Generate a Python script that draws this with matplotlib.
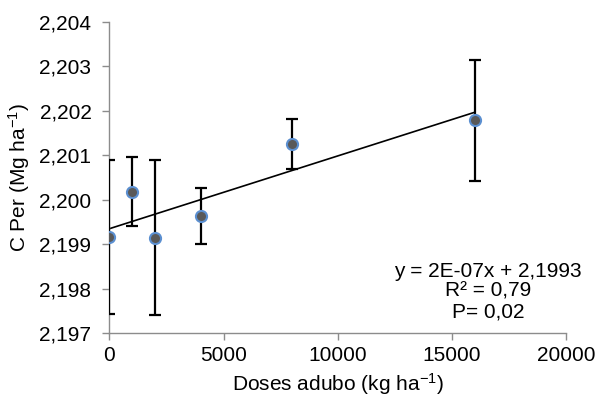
import numpy as np
import matplotlib
matplotlib.use('Agg')
import matplotlib.pyplot as plt
from matplotlib.ticker import FuncFormatter

plt.rcParams['font.family'] = ['Liberation Sans', 'DejaVu Sans']
plt.rcParams['mathtext.fontset'] = 'custom'
plt.rcParams['mathtext.rm'] = 'Liberation Sans'
plt.rcParams['mathtext.default'] = 'regular'

doses = np.array([0, 1000, 2000, 4000, 8000, 16000])
c_per = np.array([2.19916, 2.20018, 2.19914, 2.19963, 2.20125, 2.20178])
err = np.array([0.00173, 0.00078, 0.00174, 0.00062, 0.00056, 0.00136])

eq_text = 'y = 2E-07x + 2,1993'
r2_text = 'R² = 0,79'
p_text = 'P= 0,02'

fig = plt.figure(figsize=(6.09, 3.99), dpi=100)
ax = fig.add_axes([0.1798, 0.1654, 0.7496, 0.7805])

# trend line
coef = np.polyfit(doses, c_per, 1)
xl = np.array([doses.min(), doses.max()])
ax.plot(xl, np.polyval(coef, xl), color='black', lw=1.2, zorder=2)

ax.errorbar(doses, c_per, yerr=err, fmt='none', ecolor='black', elinewidth=1.6,
            capsize=4.5, capthick=1.6, zorder=3)
ax.plot(doses, c_per, 'o', ms=8, mfc='#595959', mec='#5B8FD0', mew=1.5, zorder=4)

ax.set_xlim(0, 20000)
ax.set_ylim(2.197, 2.204)
ax.set_xticks([0, 5000, 10000, 15000, 20000])
ax.set_yticks(np.arange(2.197, 2.20401, 0.001))
ax.yaxis.set_major_formatter(FuncFormatter(lambda v, p: f'{v:.3f}'.replace('.', ',')))

for s in ['top', 'right']:
    ax.spines[s].set_visible(False)
for s in ['left', 'bottom']:
    ax.spines[s].set_color('#8c8c8c')
    ax.spines[s].set_linewidth(1.0)
ax.tick_params(colors='#8c8c8c', labelcolor='black', labelsize=15, length=5, width=1.0)
ax.tick_params(axis='y', pad=8)
ax.tick_params(axis='x', pad=4)

ax.set_xlabel('Doses adubo (kg ha$^{-1}$)', fontsize=15, labelpad=5)
ax.set_ylabel('C Per (Mg ha$^{-1}$)', fontsize=15, labelpad=5)

ax.text(0.829, 0.199, eq_text, transform=ax.transAxes, ha='center', va='center', fontsize=15)
ax.text(0.829, 0.136, r2_text, transform=ax.transAxes, ha='center', va='center', fontsize=15)
ax.text(0.829, 0.069, p_text, transform=ax.transAxes, ha='center', va='center', fontsize=15)

fig.savefig('out.png', dpi=100)
